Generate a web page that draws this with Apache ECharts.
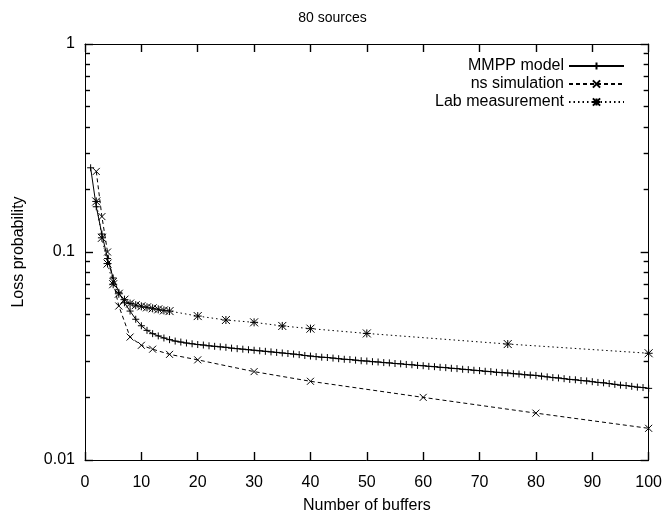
<!DOCTYPE html>
<html>
<head>
<meta charset="utf-8">
<script src="https://cdn.jsdelivr.net/npm/echarts@6/dist/echarts.min.js"></script>
<style>
html,body{margin:0;padding:0;background:#fff}
#chart{width:665px;height:523px}
</style>
</head>
<body>
<div id="chart"></div>
<script>
// values
var mmppBuffers = [1,2,3,4,5,6,7,8,9,10,11,12,13,14,15,16,17,18,19,20,
    21,22,23,24,25,26,27,28,29,30,31,32,33,34,35,36,37,38,39,40,
    41,42,43,44,45,46,47,48,49,50,51,52,53,54,55,56,57,58,59,60,
    61,62,63,64,65,66,67,68,69,70,71,72,73,74,75,76,77,78,79,80,
    81,82,83,84,85,86,87,88,89,90,91,92,93,94,95,96,97,98,99,100]
var mmppLoss = [0.254,0.165,0.122,0.093,0.075,0.064,0.057,0.052,0.0475,0.0442,
    0.042,0.0405,0.0395,0.0386,0.0379,0.0373,0.0369,0.0365,0.0362,0.0359,
    0.0357,0.0354,0.0352,0.0350,0.0348,0.0345,0.0343,0.0341,0.0339,0.0337,
    0.0335,0.0333,0.0331,0.0329,0.0327,0.0325,0.0323,0.0321,0.0318,0.0316,
    0.0314,0.0312,0.0311,0.0309,0.0307,0.0305,0.0304,0.0302,0.0300,0.0299,
    0.0297,0.0296,0.0294,0.0293,0.0291,0.0290,0.0288,0.0287,0.0285,0.0284,
    0.0282,0.0281,0.0279,0.0278,0.0276,0.0275,0.0273,0.0272,0.0270,0.0269,
    0.0267,0.0266,0.0264,0.0263,0.0262,0.0260,0.0259,0.0257,0.0256,0.0255,
    0.0253,0.0251,0.0249,0.0248,0.0246,0.0244,0.0243,0.0241,0.0240,0.0238,
    0.0236,0.0235,0.0233,0.0231,0.0229,0.0228,0.0226,0.0224,0.0223,0.0221]

var nsBuffers = [2,3,4,5,6,8,10,12,15,20,30,40,60,80,100]
var nsLoss = [0.244,0.148,0.100,0.072,0.055,0.039,0.0356,0.0341,0.0322,0.0303,0.0266,0.0239,0.0200,0.0168,0.0142]

var labBuffers = [2,3,4,5,6,7,8,9,10,11,12,13,14,15,20,25,30,35,40,50,75,100]
var labLoss = [0.175,0.117,0.088,0.070,0.063,0.059,0.0565,0.0555,0.0548,0.0542,0.0536,0.053,0.0524,0.052,
    0.0492,0.0471,0.0459,0.0441,0.0428,0.0406,0.0361,0.0326]

var yTickLabels = {'0.01':'0.01','0.1':'0.1','1':'1'}

// minor ticks of the log axis (2..9 in each decade), in log10 units
var minorSteps = [2,3,4,5,6,7,8,9]
var minorTicks = []
;[-2,-1].forEach(function(e){
    minorSteps.forEach(function(k){ minorTicks.push(Math.log10(k)+e) })
})

function pairs(xs,ys){
    return xs.map(function(x,i){ return [x,ys[i]] })
}

var FONT = 'Liberation Sans'
var plus  = 'path://M0,5L10,5M5,0L5,10'
var cross = 'path://M0,0L10,10M10,0L0,10'
var star  = 'path://M0,5L10,5M5,0L5,10M0,0L10,10M10,0L0,10'

function mark(){
    return {color:'#000',borderColor:'#000',borderWidth:1}
}

var tickLine = {color:'#000',width:1.4}

function minorAxis(pos){
    return {
        type:'value',min:-2,max:0,position:pos,
        axisLine:{show:false,onZero:false},
        axisTick:{show:true,inside:true,length:5,lineStyle:tickLine,customValues:minorTicks},
        axisLabel:{show:false},
        splitLine:{show:false}
    }
}

var chart = echarts.init(document.getElementById('chart'))
chart.setOption({
    animation:false,
    backgroundColor:'#fff',
    title:{
        text:'80 sources',
        left:'center',
        top:6,
        textStyle:{fontFamily:FONT,fontSize:14,fontWeight:'normal',color:'#000'}
    },
    legend:{
        orient:'vertical',
        right:35,
        top:53,
        align:'right',
        itemWidth:55,
        itemHeight:9,
        itemGap:2,
        textStyle:{fontFamily:FONT,fontSize:16,color:'#000'},
        data:['MMPP model','ns simulation','Lab measurement']
    },
    grid:{left:85,right:14,top:44,bottom:63},
    xAxis:[{
        type:'value',min:0,max:100,interval:10,
        name:'Number of buffers',nameLocation:'middle',nameGap:38,
        nameTextStyle:{fontFamily:FONT,fontSize:16,color:'#000'},
        axisLine:{onZero:false,lineStyle:{color:'#000',width:1}},
        axisTick:{show:true,inside:true,length:8,lineStyle:tickLine},
        axisLabel:{margin:15,fontFamily:FONT,fontSize:16,color:'#000'},
        splitLine:{show:false}
    },{
        type:'value',min:0,max:100,interval:10,position:'top',
        axisLine:{onZero:false,lineStyle:{color:'#000',width:1}},
        axisTick:{show:true,inside:true,length:8,lineStyle:tickLine},
        axisLabel:{show:false},
        splitLine:{show:false}
    }],
    yAxis:[{
        type:'log',logBase:10,min:0.01,max:1,
        name:'Loss probability',nameLocation:'middle',nameGap:58,
        nameTextStyle:{fontFamily:FONT,fontSize:16,color:'#000'},
        axisLine:{onZero:false,lineStyle:{color:'#000',width:1}},
        axisTick:{show:true,inside:true,length:8,lineStyle:tickLine},
        axisLabel:{margin:10,fontFamily:FONT,fontSize:16,color:'#000',
            formatter:function(v){ return yTickLabels[String(v)] || String(v) }},
        splitLine:{show:false}
    },{
        type:'log',logBase:10,min:0.01,max:1,position:'right',
        axisLine:{onZero:false,lineStyle:{color:'#000',width:1}},
        axisTick:{show:true,inside:true,length:8,lineStyle:tickLine},
        axisLabel:{show:false},
        splitLine:{show:false}
    },minorAxis('left'),minorAxis('right')],
    series:[{
        name:'MMPP model',type:'line',
        data:pairs(mmppBuffers,mmppLoss),
        symbol:plus,symbolSize:7,
        itemStyle:mark(),
        lineStyle:{color:'#000',width:1,type:'solid'}
    },{
        name:'ns simulation',type:'line',
        data:pairs(nsBuffers,nsLoss),
        symbol:cross,symbolSize:7,
        itemStyle:mark(),
        lineStyle:{color:'#000',width:1,type:[4,3]}
    },{
        name:'Lab measurement',type:'line',
        data:pairs(labBuffers,labLoss),
        symbol:star,symbolSize:8,
        itemStyle:mark(),
        lineStyle:{color:'#000',width:1,type:[1.5,3]}
    }]
})
</script>
</body>
</html>
